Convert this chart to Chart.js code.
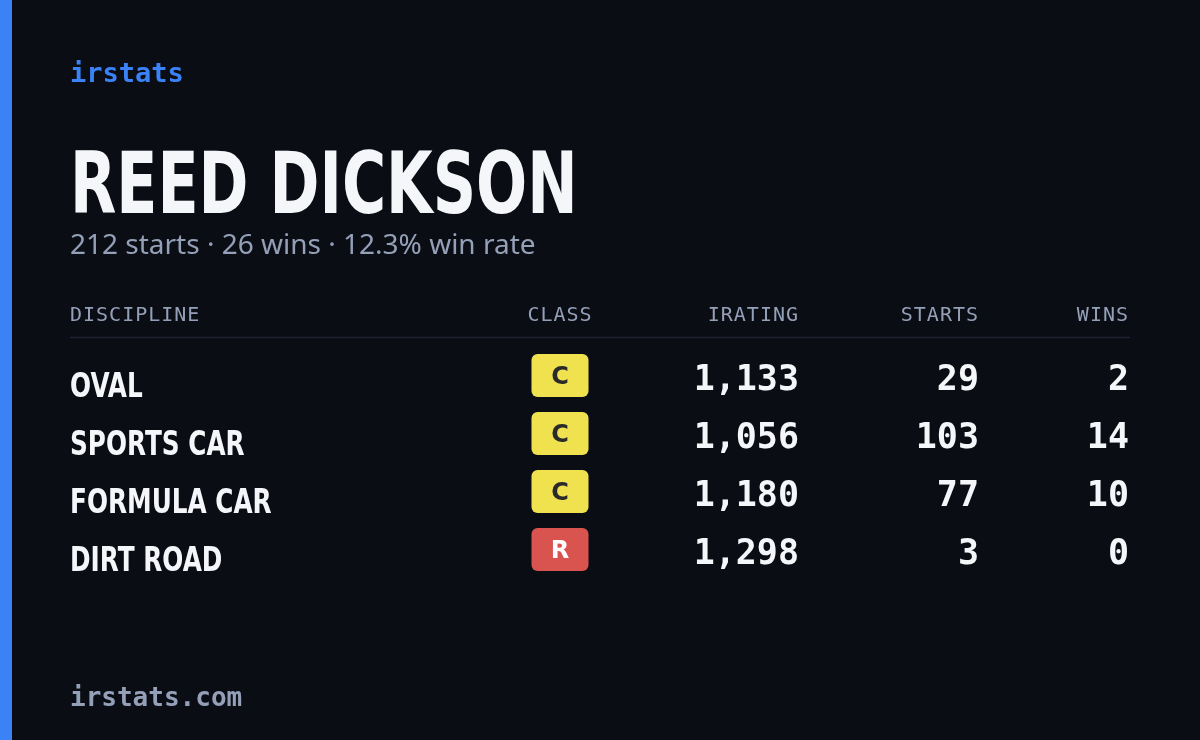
<!DOCTYPE html>
<html><head><meta charset="utf-8">
<script src="https://cdn.jsdelivr.net/npm/chart.js@4/dist/chart.umd.min.js"></script>
<style>
html,body{margin:0;padding:0;background:#0b0d14;}
canvas{display:block;}
</style></head>
<body>
<canvas id="card" width="1200" height="740"></canvas>
<script>
// data
let disciplines = ['OVAL', 'SPORTS CAR', 'FORMULA CAR', 'DIRT ROAD'];
let classes = ['C', 'C', 'C', 'R'];
let iratings = [1133, 1056, 1180, 1298];
let starts = [29, 103, 77, 3];
let wins = [2, 14, 10, 0];
let headers = ['DISCIPLINE', 'CLASS', 'IRATING', 'STARTS', 'WINS'];

// column anchors on the x scale (0..1200)
let colX = [70, 560, 799, 979, 1129];
let classColors = { C: '#f0e14f', R: '#d9534f' };

let mono = '"DejaVu Sans Mono", monospace';
let sans = '"DejaVu Sans", sans-serif';

function fmt(n) { return n.toLocaleString('en-US'); }

// condensed text: squeeze horizontally since no condensed face is installed
function narrowText(c, txt, x, y, sx) {
  c.save();
  c.translate(x, y);
  c.scale(sx, 1);
  c.fillText(txt, 0, 0);
  c.restore();
}

let cardPlugin = {
  id: 'card',
  beforeDraw(chart) {
    let c = chart.ctx;
    c.save();
    c.fillStyle = '#0b0d14';
    c.fillRect(0, 0, chart.width, chart.height);
    c.fillStyle = '#3b82f6';
    c.fillRect(0, 0, 12, chart.height);
    c.restore();
  },
  afterDraw(chart) {
    let c = chart.ctx, xs = chart.scales.x, ys = chart.scales.y;
    c.save();
    c.textBaseline = 'alphabetic';
    c.textAlign = 'left';
    c.fillStyle = '#3b82f6';
    c.font = 'bold 27px ' + mono;
    c.fillText('irstats', 70, 82);

    c.fillStyle = '#f5f6fa';
    c.font = 'bold 86px ' + sans;
    narrowText(c, 'REED DICKSON', 70, 213, 0.70);

    let total = starts.reduce((a, b) => a + b, 0);
    let w = wins.reduce((a, b) => a + b, 0);
    c.fillStyle = '#94a0b8';
    c.font = '28px "Noto Sans", sans-serif';
    c.fillText(total + ' starts · ' + w + ' wins · ' + (w / total * 100).toFixed(1) + '% win rate', 70, 254);

    // header
    c.font = '20px ' + mono;
    c.fillStyle = '#94a0b8';
    if (c.letterSpacing !== undefined) c.letterSpacing = '1px';
    headers.forEach((h, i) => {
      c.textAlign = i === 0 ? 'left' : (i === 1 ? 'center' : 'right');
      c.fillText(h, xs.getPixelForValue(colX[i]), 321);
    });
    if (c.letterSpacing !== undefined) c.letterSpacing = '0px';
    c.strokeStyle = '#1e2230';
    c.lineWidth = 1.5;
    c.beginPath(); c.moveTo(70, 337.5); c.lineTo(1130, 337.5); c.stroke();

    disciplines.forEach((d, i) => {
      let y = ys.getPixelForValue(i);
      c.textAlign = 'left';
      c.fillStyle = '#f5f6fa';
      c.font = 'bold 33px ' + sans;
      narrowText(c, d, xs.getPixelForValue(colX[0]), y + 17, 0.75);

      let bx = xs.getPixelForValue(colX[1]);
      c.fillStyle = classColors[classes[i]];
      c.beginPath();
      c.roundRect(bx - 28.5, y - 26, 57, 43, 6);
      c.fill();
      c.fillStyle = classes[i] === 'R' ? '#ffffff' : '#2a2a2a';
      c.textAlign = 'center';
      c.font = 'bold 24px ' + sans;
      c.fillText(classes[i], bx, y + 4);

      c.fillStyle = '#f5f6fa';
      c.textAlign = 'right';
      c.font = 'bold 35px ' + mono;
      c.fillText(fmt(iratings[i]), xs.getPixelForValue(colX[2]), y + 10);
      c.fillText(fmt(starts[i]), xs.getPixelForValue(colX[3]), y + 10);
      c.fillText(fmt(wins[i]), xs.getPixelForValue(colX[4]), y + 10);
    });

    c.textAlign = 'left';
    c.fillStyle = '#94a0b8';
    c.font = 'bold 26px ' + mono;
    c.fillText('irstats.com', 70, 706);
    c.restore();
  }
};

let chart = new Chart(document.getElementById('card').getContext('2d'), {
  type: 'scatter',
  data: {
    datasets: [{
      data: disciplines.map((d, i) => ({ x: colX[1], y: i })),
      pointRadius: 0
    }]
  },
  options: {
    responsive: false,
    animation: false,
    layout: { padding: { top: 351, bottom: 157, left: 0, right: 0 } },
    plugins: { legend: { display: false }, tooltip: { enabled: false } },
    scales: {
      x: { type: 'linear', min: 0, max: 1200, display: false },
      y: { type: 'linear', min: -0.5, max: 3.5, reverse: true, display: false }
    }
  },
  plugins: [cardPlugin]
});
</script>
</body></html>
